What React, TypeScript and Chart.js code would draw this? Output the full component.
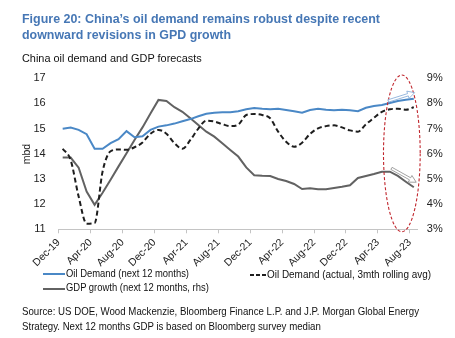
import React, { useEffect, useRef } from 'react';
import { Chart, registerables } from 'chart.js';

Chart.register(...registerables);

// ---- Data (monthly, Dec-19 .. Aug-23) ----
const X_TICK_LABELS = ['Dec-19', 'Apr-20', 'Aug-20', 'Dec-20', 'Apr-21', 'Aug-21', 'Dec-21', 'Apr-22', 'Aug-22', 'Dec-22', 'Apr-23', 'Aug-23'];

// Oil demand, next 12 months (mbd)
const OIL_NEXT12 = [
  15.0, 15.04, 14.95, 14.78, 14.2, 14.2, 14.42, 14.58, 14.9, 14.66,
  14.7, 14.95, 15.08, 15.13, 15.2, 15.29, 15.38, 15.49, 15.59, 15.63,
  15.65, 15.65, 15.69, 15.77, 15.82, 15.79, 15.77, 15.79, 15.74, 15.69,
  15.63, 15.74, 15.79, 15.75, 15.73, 15.75, 15.73, 15.69, 15.83, 15.9,
  15.94, 16.02, 16.1, 16.15, 16.19,
];

// Oil demand, actual 3mth rolling avg (mbd)
const OIL_ACTUAL = [
  14.2, 13.75, 12.3, 11.22, 11.25, 13.3, 14.1, 14.17, 14.16, 14.26,
  14.45, 14.8, 14.95, 14.8, 14.42, 14.2, 14.55, 15.0, 15.32, 15.28,
  15.18, 15.1, 15.16, 15.54, 15.58, 15.54, 15.41, 14.88, 14.48, 14.28,
  14.44, 14.79, 15.01, 15.1, 15.13, 15.05, 14.93, 14.88, 15.17, 15.43,
  15.67, 15.77, 15.79, 15.75, 15.85,
];

// GDP growth, next 12 months (%, rhs)
const GDP_GROWTH = [
  5.85, 5.85, 5.45, 4.5, 3.97, 4.45, 4.97, 5.5, 6.02, 6.55,
  7.05, 7.6, 8.14, 8.1, 7.85, 7.67, 7.41, 7.14, 6.88, 6.68,
  6.42, 6.15, 5.89, 5.46, 5.15, 5.13, 5.12, 5.0, 4.92, 4.8,
  4.6, 4.63, 4.59, 4.59, 4.64, 4.69, 4.75, 5.04, 5.12, 5.2,
  5.29, 5.29, 5.12, 4.89, 4.67,
];

// Annotation (highlight ellipse and trend arrows) in data units
const ELLIPSE_X = [40.7, 45.3];
const ELLIPSE_Y = [17.13, 10.9];
const ARROW_OIL = [41.3, 16.1, 44.6, 16.43];
const ARROW_GDP = [41.7, 13.42, 44.8, 12.87];

const FONT = "'Liberation Sans', Arial, Helvetica, sans-serif";

const BLUE = '#4a88c6';
const DARK = '#1e1e1e';
const GREY = '#626262';
const TITLE_BLUE = '#4677b5';

let measureCtx: CanvasRenderingContext2D | null = null;
function measure(text: string, font: string): number {
  if (typeof document === 'undefined') return 0;
  if (!measureCtx) measureCtx = document.createElement('canvas').getContext('2d');
  if (!measureCtx) return 0;
  measureCtx.font = font;
  return measureCtx.measureText(text).width;
}

function FitText(props: { text: string; left: number; baseline: number; width: number; size: number; weight?: string; color?: string }) {
  const { text, left, baseline, width, size, weight = 'normal', color = '#111' } = props;
  const natural = measure(text, `${weight} ${size}px ${FONT}`) || width;
  const sx = width / natural;
  return (
    <div
      style={{
        position: 'absolute',
        left,
        top: baseline - 0.8465 * size,
        fontFamily: FONT,
        fontSize: size,
        fontWeight: weight as any,
        lineHeight: `${size}px`,
        color,
        whiteSpace: 'nowrap',
        transform: `scaleX(${sx})`,
        transformOrigin: 'left top',
      }}
    >
      {text}
    </div>
  );
}

function drawArrow(ctx: CanvasRenderingContext2D, x0: number, y0: number, x1: number, y1: number, color: string) {
  const dx = x1 - x0, dy = y1 - y0;
  const len = Math.hypot(dx, dy);
  const ux = dx / len, uy = dy / len;
  const nx = -uy, ny = ux;
  const w = 1.2, h = 3.8, L = 7;
  const bx = x1 - ux * L, by = y1 - uy * L;
  ctx.beginPath();
  ctx.moveTo(x0 + nx * w, y0 + ny * w);
  ctx.lineTo(bx + nx * w, by + ny * w);
  ctx.lineTo(bx + nx * h, by + ny * h);
  ctx.lineTo(x1, y1);
  ctx.lineTo(bx - nx * h, by - ny * h);
  ctx.lineTo(bx - nx * w, by - ny * w);
  ctx.lineTo(x0 - nx * w, y0 - ny * w);
  ctx.closePath();
  ctx.fillStyle = '#ffffff';
  ctx.fill();
  ctx.strokeStyle = color;
  ctx.lineWidth = 0.8;
  ctx.stroke();
}

const annotationPlugin = {
  id: 'annotations',
  afterDatasetsDraw(chart: any) {
    const { ctx, scales } = chart;
    const x = scales.x, y = scales.y;
    ctx.save();
    const ex0 = x.getPixelForValue(ELLIPSE_X[0]);
    const ex1 = x.getPixelForValue(ELLIPSE_X[1]);
    const ey0 = y.getPixelForValue(ELLIPSE_Y[0]);
    const ey1 = y.getPixelForValue(ELLIPSE_Y[1]);
    ctx.beginPath();
    ctx.ellipse((ex0 + ex1) / 2, (ey0 + ey1) / 2, Math.abs(ex1 - ex0) / 2, Math.abs(ey1 - ey0) / 2, 0, 0, Math.PI * 2);
    ctx.setLineDash([3, 2]);
    ctx.strokeStyle = '#c0262d';
    ctx.lineWidth = 1.1;
    ctx.stroke();
    ctx.setLineDash([]);
    drawArrow(ctx, x.getPixelForValue(ARROW_OIL[0]), y.getPixelForValue(ARROW_OIL[1]), x.getPixelForValue(ARROW_OIL[2]), y.getPixelForValue(ARROW_OIL[3]), '#7fa7d6');
    drawArrow(ctx, x.getPixelForValue(ARROW_GDP[0]), y.getPixelForValue(ARROW_GDP[1]), x.getPixelForValue(ARROW_GDP[2]), y.getPixelForValue(ARROW_GDP[3]), '#8a8a8a');
    ctx.restore();
  },
};

function ChartCanvas() {
  const ref = useRef<HTMLCanvasElement | null>(null);
  useEffect(() => {
    if (!ref.current) return;
    const toXY = (arr: number[]) => arr.map((v, i) => ({ x: i + 0.5, y: v }));
    const chart = new Chart(ref.current, {
      type: 'line',
      data: {
        datasets: [
          {
            label: 'Oil Demand (next 12 months)',
            data: toXY(OIL_NEXT12),
            borderColor: BLUE,
            borderWidth: 2,
            pointRadius: 0,
            yAxisID: 'y',
            order: 2,
          },
          {
            label: 'Oil Demand (actual, 3mth rolling avg)',
            data: toXY(OIL_ACTUAL),
            borderColor: DARK,
            borderWidth: 2,
            borderDash: [5, 3],
            pointRadius: 0,
            cubicInterpolationMode: 'monotone',
            yAxisID: 'y',
            order: 1,
          },
          {
            label: 'GDP growth (next 12 months, rhs)',
            data: toXY(GDP_GROWTH),
            borderColor: GREY,
            borderWidth: 2,
            pointRadius: 0,
            yAxisID: 'y2',
            order: 3,
          },
        ],
      },
      options: {
        animation: false,
        responsive: false,
        maintainAspectRatio: false,
        layout: { padding: { left: 0, right: 0, top: 78.3, bottom: 68.7 } },
        plugins: { legend: { display: false }, tooltip: { enabled: false } },
        scales: {
          x: {
            type: 'linear',
            min: 0,
            max: 45,
            afterBuildTicks: (s: any) => {
              s.ticks = s.ticks.filter((t: any) => t.value % 4 === 0 && t.value <= 44);
            },
            afterFit: (s: any) => {
              s.height = 40;
            },
            ticks: {
              stepSize: 4,
              includeBounds: false,
              autoSkip: false,
              minRotation: 45,
              maxRotation: 45,
              padding: 3,
              color: '#222',
              font: { family: FONT, size: 10.5 },
              callback: (v: any) => X_TICK_LABELS[Math.round(Number(v) / 4)] ?? '',
            },
            grid: { display: true, drawOnChartArea: false, drawTicks: true, tickLength: 4, color: '#c4c4c4' },
            border: { display: true, color: '#c4c4c4', width: 1 },
          },
          y: {
            position: 'left',
            min: 11,
            max: 17,
            afterFit: (s: any) => {
              s.width = 58.7;
            },
            ticks: { stepSize: 1, padding: 13, color: '#222', font: { family: FONT, size: 11 } },
            grid: { display: false, drawTicks: false },
            border: { display: false },
          },
          y2: {
            position: 'right',
            min: 3,
            max: 9,
            afterFit: (s: any) => {
              s.width = 37.2;
            },
            ticks: {
              stepSize: 1,
              padding: 9,
              color: '#222',
              font: { family: FONT, size: 11 },
              callback: (v: any) => `${v}%`,
            },
            grid: { display: false, drawTicks: false },
            border: { display: false },
          },
        },
      },
      plugins: [annotationPlugin],
    } as any);
    return () => chart.destroy();
  }, []);
  return <canvas ref={ref} width={455} height={338} style={{ position: 'absolute', left: 0, top: 0, width: 455, height: 338 }} />;
}

function LegendLine(props: { left: number; top: number; width: number; color: string; dashed?: boolean }) {
  const { left, top, width, color, dashed } = props;
  if (dashed) {
    return (
      <div style={{ position: 'absolute', left, top: top - 1, width, height: 2 }}>
        {[0, 1, 2].map((k) => (
          <div key={k} style={{ position: 'absolute', left: k * 6, top: 0, width: 4, height: 2, background: color }} />
        ))}
      </div>
    );
  }
  return <div style={{ position: 'absolute', left, top: top - 1, width, height: 2, background: color }} />;
}

export default function App() {
  return (
    <div style={{ position: 'absolute', left: 0, top: 0, width: 455, height: 338, background: '#fff', overflow: 'hidden' }}>
      <ChartCanvas />
      <FitText text="Figure 20: China’s oil demand remains robust despite recent" left={21.5} baseline={23.3} width={358} size={12.5} weight="bold" color={TITLE_BLUE} />
      <FitText text="downward revisions in GPD growth" left={21.5} baseline={40} width={209} size={12.5} weight="bold" color={TITLE_BLUE} />
      <FitText text="China oil demand and GDP forecasts" left={21.5} baseline={63} width={180} size={11.5} color="#111" />
      <div
        style={{
          position: 'absolute',
          left: 26,
          top: 154,
          fontFamily: FONT,
          fontSize: 10.5,
          lineHeight: '10.5px',
          color: '#222',
          whiteSpace: 'nowrap',
          transform: 'translate(-50%, -50%) rotate(-90deg)',
        }}
      >
        mbd
      </div>
      <LegendLine left={43} top={273.5} width={22} color={BLUE} />
      <FitText text="Oil Demand (next 12 months)" left={66} baseline={277.3} width={123} size={11} color="#111" />
      <LegendLine left={250} top={274.5} width={16} color={DARK} dashed />
      <FitText text="Oil Demand (actual, 3mth rolling avg)" left={267} baseline={278} width={164} size={11} color="#111" />
      <LegendLine left={43} top={288.5} width={22} color={GREY} />
      <FitText text="GDP growth (next 12 months, rhs)" left={66} baseline={291.7} width={143} size={11} color="#111" />
      <FitText text="Source: US DOE, Wood Mackenzie, Bloomberg Finance L.P. and J.P. Morgan Global Energy" left={21.5} baseline={315.7} width={397} size={11} color="#111" />
      <FitText text="Strategy. Next 12 months GDP is based on Bloomberg survey median" left={21.5} baseline={330.7} width={299} size={11} color="#111" />
    </div>
  );
}
